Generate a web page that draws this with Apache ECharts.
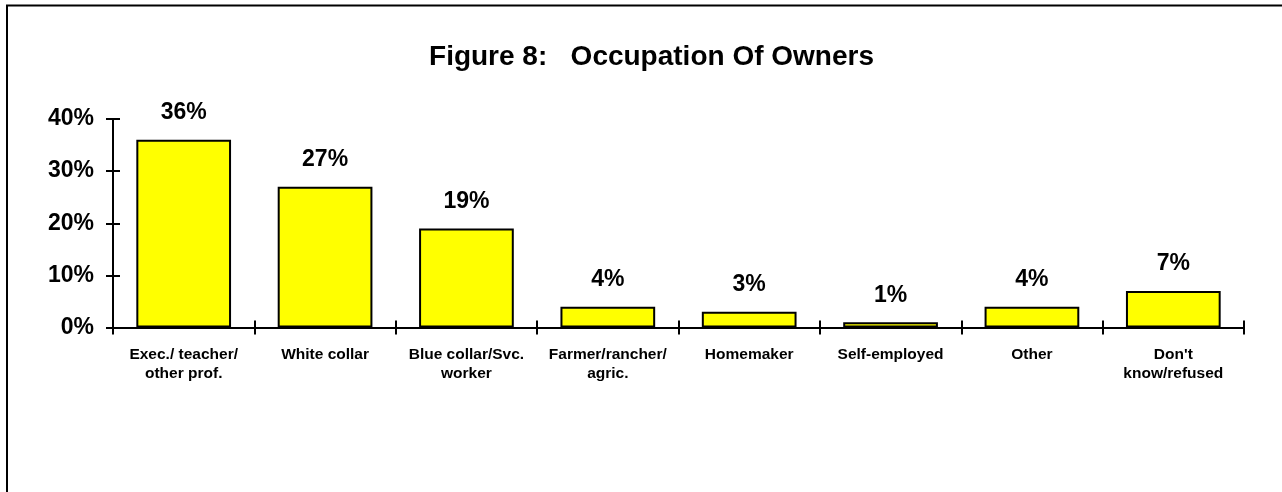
<!DOCTYPE html>
<html>
<head>
<meta charset="utf-8">
<script src="https://cdn.jsdelivr.net/npm/echarts@6/dist/echarts.min.js"></script>
<style>
html,body{margin:0;padding:0;background:#fff;}
#c{width:1282px;height:492px;}
</style>
</head>
<body>
<div id="c"></div>
<script>
var titleText = 'Figure 8:   Occupation Of Owners';
var categories = ['Exec./ teacher/\nother prof.', 'White collar', 'Blue collar/Svc.\nworker', 'Farmer/rancher/\nagric.', 'Homemaker', 'Self-employed', 'Other', "Don't\nknow/refused"];
var values = [36, 27, 19, 4, 3, 1, 4, 7];
var yTicks = [0, 10, 20, 30, 40];

var FONT = '"Liberation Sans", Arial, sans-serif';
var gridPos = {left: 113, right: 38, top: 119, bottom: 164.5, containLabel: false};

var chart = echarts.init(document.getElementById('c'), null, {renderer: 'canvas'});
chart.setOption({
  animation: false,
  backgroundColor: '#ffffff',
  title: {
    text: titleText,
    left: 646.5, top: 38, textAlign: 'center',
    textStyle: {fontFamily: FONT, fontWeight: 'bold', fontSize: 28, color: '#000'}
  },
  graphic: [{
    type: 'rect', shape: {x: 7, y: 5.5, width: 1400, height: 600},
    style: {fill: 'none', stroke: '#000', lineWidth: 2}, silent: true
  }],
  grid: [Object.assign({}, gridPos), Object.assign({}, gridPos)],
  xAxis: [{
    type: 'category', gridIndex: 0, data: categories, boundaryGap: true,
    axisLine: {lineStyle: {color: '#000', width: 2}},
    axisTick: {show: true, length: 7, lineStyle: {color: '#000', width: 2}},
    axisLabel: {interval: 0, margin: 18, color: '#000', fontFamily: FONT, fontWeight: 'bold', fontSize: 15.5, lineHeight: 19},
    splitLine: {show: false}
  }, {
    type: 'category', gridIndex: 1, data: categories, boundaryGap: true,
    axisLine: {show: false},
    axisTick: {show: true, inside: true, length: 7, lineStyle: {color: '#000', width: 2}},
    axisLabel: {show: false}, splitLine: {show: false}
  }],
  yAxis: [{
    type: 'value', gridIndex: 0, min: yTicks[0], max: yTicks[yTicks.length - 1], interval: 10,
    axisLine: {show: true, lineStyle: {color: '#000', width: 2}},
    axisTick: {show: true, length: 7, lineStyle: {color: '#000', width: 2}},
    axisLabel: {margin: 19, color: '#000', fontFamily: FONT, fontWeight: 'bold', fontSize: 23, formatter: '{value}%'},
    splitLine: {show: false}
  }, {
    type: 'value', gridIndex: 1, min: yTicks[0], max: yTicks[yTicks.length - 1], interval: 10,
    axisLine: {show: false},
    axisTick: {show: true, inside: true, length: 7, lineStyle: {color: '#000', width: 2}},
    axisLabel: {show: false}, splitLine: {show: false}
  }],
  series: [{
    type: 'bar', xAxisIndex: 0, yAxisIndex: 0, data: values, barWidth: '67%',
    itemStyle: {color: '#FFFF00', borderColor: '#000', borderWidth: 2},
    label: {show: true, position: 'top', distance: 15.5, formatter: '{c}%', color: '#000', fontFamily: FONT, fontWeight: 'bold', fontSize: 23}
  }]
});
</script>
</body>
</html>
